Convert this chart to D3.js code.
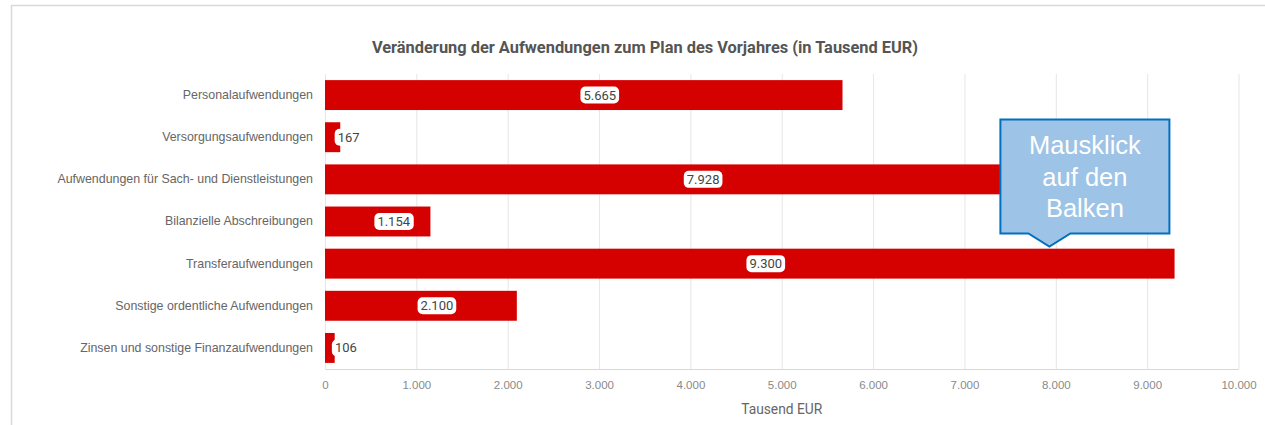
<!DOCTYPE html>
<html>
<head>
<meta charset="utf-8">
<script src="https://cdn.jsdelivr.net/npm/d3@7"></script>
<style>
  body { margin: 0; background: #fff; }
  svg { display: block; }
</style>
</head>
<body>
<div id="chart"></div>
<script>
// data
var categories = [
  "Personalaufwendungen",
  "Versorgungsaufwendungen",
  "Aufwendungen für Sach- und Dienstleistungen",
  "Bilanzielle Abschreibungen",
  "Transferaufwendungen",
  "Sonstige ordentliche Aufwendungen",
  "Zinsen und sonstige Finanzaufwendungen"
];
var values = [5665, 167, 7928, 1154, 9300, 2100, 106];
var xTicks = [0, 1000, 2000, 3000, 4000, 5000, 6000, 7000, 8000, 9000, 10000];
var chartTitle = "Veränderung der Aufwendungen zum Plan des Vorjahres (in Tausend EUR)";
var axisTitle = "Tausend EUR";
var calloutLines = ["Mausklick", "auf den", "Balken"];

var width = 1265, height = 425;
var plot = { left: 325, right: 1238.5, top: 74, bottom: 369 };

var de = d3.formatLocale({ decimal: ",", thousands: ".", grouping: [3], currency: ["", " €"] });
var fmt = de.format(",d");

var svg = d3.select("#chart").append("svg")
  .attr("width", width)
  .attr("height", height);

// card frame
svg.append("rect")
  .attr("x", 11.5).attr("y", 5.5)
  .attr("width", 1400).attr("height", 600)
  .attr("fill", "#fff")
  .attr("stroke", "#d9d9d9")
  .attr("stroke-width", 1.5);

var x = d3.scaleLinear().domain([0, 10000]).range([plot.left, plot.right]);
var y = d3.scaleBand().domain(categories).range([plot.top, plot.bottom])
  .paddingInner(0.29).paddingOuter(0.145);

// title
svg.append("text")
  .attr("x", 645).attr("y", 53)
  .attr("text-anchor", "middle")
  .style("font-family", "Roboto, sans-serif")
  .style("font-weight", "bold")
  .style("font-size", "16.4px")
  .style("fill", "#555")
  .text(chartTitle);

// grid lines
svg.append("g").selectAll("line")
  .data(xTicks)
  .enter().append("line")
  .attr("x1", d => x(d) + 0.5).attr("x2", d => x(d) + 0.5)
  .attr("y1", plot.top).attr("y2", plot.bottom)
  .style("stroke", "#e6e6e6")
  .style("stroke-width", 1);

// bottom axis
var xAxis = d3.axisBottom(x).tickValues(xTicks).tickSize(0).tickPadding(12).tickFormat(fmt);
var gx = svg.append("g")
  .attr("transform", "translate(0," + plot.bottom + ")")
  .call(xAxis);
gx.select(".domain").style("stroke", "#d8d8d8");
gx.selectAll("text")
  .style("font-family", "'Liberation Sans', Arial, sans-serif")
  .style("font-size", "11.5px")
  .style("fill", "#8a8a8a");

svg.append("text")
  .attr("x", (plot.left + plot.right) / 2).attr("y", 414)
  .attr("text-anchor", "middle")
  .style("font-family", "Roboto, sans-serif")
  .style("font-size", "13.8px")
  .style("fill", "#666")
  .text(axisTitle);

// category labels
var yAxis = d3.axisLeft(y).tickSize(0).tickPadding(12);
var gy = svg.append("g")
  .attr("transform", "translate(" + plot.left + ",0)")
  .call(yAxis);
gy.select(".domain").remove();
gy.selectAll("text")
  .style("font-family", "'Liberation Sans', Arial, sans-serif")
  .style("font-size", "12.4px")
  .style("fill", "#666");

// bars
var rows = categories.map((c, i) => ({ cat: c, val: values[i] }));
svg.append("g").selectAll("rect")
  .data(rows)
  .enter().append("rect")
  .attr("x", x(0))
  .attr("y", d => y(d.cat))
  .attr("width", d => x(d.val) - x(0))
  .attr("height", y.bandwidth())
  .style("fill", "#d50000");

// value labels
var lab = svg.append("g").selectAll("g")
  .data(rows)
  .enter().append("g")
  .attr("transform", d => "translate(" + ((x(0) + x(d.val)) / 2 + 16) + "," + (y(d.cat) + y.bandwidth() / 2) + ")");

lab.append("text")
  .attr("text-anchor", "middle")
  .attr("dy", "0.35em")
  .style("font-family", "Roboto, sans-serif")
  .style("font-size", "13px")
  .style("fill", "#444")
  .text(d => fmt(d.val))
  .each(function () {
    var b = this.getBBox();
    d3.select(this.parentNode).insert("rect", "text")
      .attr("x", b.x - 3).attr("y", -8.5)
      .attr("width", b.width + 6).attr("height", 17)
      .attr("rx", 5)
      .style("fill", "#fff");
  });

// callout
var tipX = x(7930), tipY = y("Transferaufwendungen") - 2;
var bx0 = tipX - 49, bx1 = tipX + 120, by0 = 119.5, by1 = 233.5;
svg.append("path")
  .attr("d", "M" + bx0 + "," + by0 + "H" + bx1 + "V" + by1 + "H" + (tipX + 21) +
    "L" + tipX + "," + tipY + "L" + (tipX - 21) + "," + by1 + "H" + bx0 + "Z")
  .style("fill", "#9dc3e6")
  .style("stroke", "#0070c0")
  .style("stroke-width", 2);

svg.append("g").selectAll("text")
  .data(calloutLines)
  .enter().append("text")
  .attr("x", (bx0 + bx1) / 2)
  .attr("y", (d, i) => 154 + i * 31.5)
  .attr("text-anchor", "middle")
  .style("font-family", "'Liberation Sans', Arial, sans-serif")
  .style("font-size", "25.5px")
  .style("fill", "#fff")
  .text(d => d);
</script>
</body>
</html>
